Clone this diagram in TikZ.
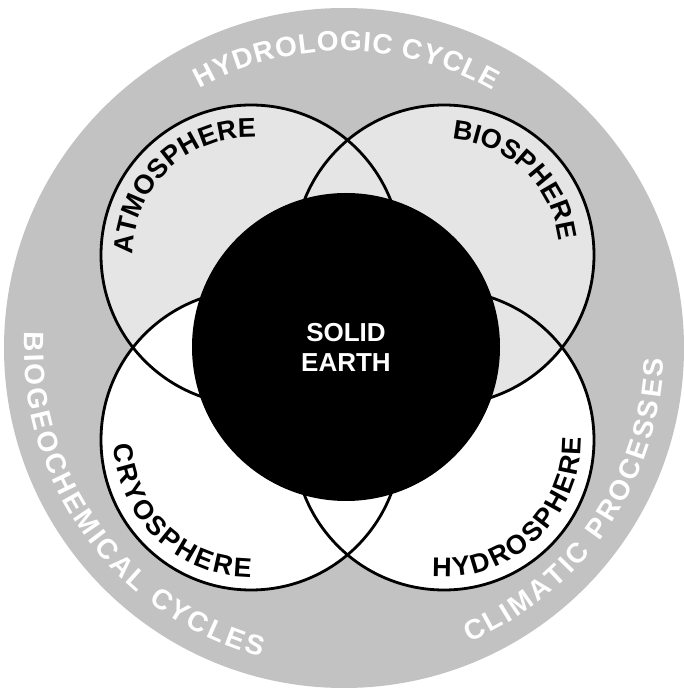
\documentclass[tikz,border=0pt]{standalone}
\usepackage{fontspec}
\setmainfont{Liberation Sans}
\usetikzlibrary{decorations.text,calc}

\newcommand\ringfont{\fontsize{28}{32}\selectfont\bfseries}
\newcommand\spherefont{\fontsize{27}{30}\selectfont\bfseries}
% start angle, end angle, radius, text
\newcommand\ringlabel[4]{%
  \path[arclabel={|\ringfont|#4}{white}] ($(ring.center)+(#1:#3pt)$) arc[start angle=#1, end angle=#2, radius=#3pt];
}

\begin{document}
\begin{tikzpicture}[
  x=1pt, y=1pt,
  sphere/.style={circle, inner sep=0pt, minimum size=300pt},
  rim/.style={line width=2.8pt},
  arclabel/.style 2 args={decorate, decoration={text along path, text align={fit to path}, text color=#2, text={#1}}}
]
  \useasboundingbox (0,0) rectangle (684,694);
  \node[circle, inner sep=0pt, minimum size=680pt, fill=black!24] (ring) at (344,346) {};
  % lower spheres lie over the upper ones where they overlap
  \node[sphere, fill=white] (hydro) at (444,254) {};
  \node[sphere, fill=black!10] (atmo) at (251,439) {};
  \node[sphere, fill=white] (cryo) at (251,254) {};
  \node[sphere, fill=black!10] (bio) at (444,439) {};
  \foreach \s in {atmo,bio,cryo,hydro}
    \draw[rim] (\s.center) circle[radius=150pt];
  \node[circle, inner sep=0pt, minimum size=308pt, fill=black, text=white, align=center,
    font=\fontsize{26}{30}\selectfont\bfseries] (earth) at (346,347) {SOLID\\EARTH};

  \path[arclabel={|\spherefont|ATMOSPHERE}{black}] ($(atmo.center)+(180:118pt)$) arc[start angle=180, end angle=89, radius=118pt];
  \path[arclabel={|\spherefont|BIOSPHERE}{black}] ($(bio.center)+(86:116pt)$) arc[start angle=86, end angle=7, radius=116pt];
  \path[arclabel={|\spherefont|CRYOSPHERE}{black}] ($(cryo.center)+(182:137pt)$) arc[start angle=182, end angle=270, radius=137pt];
  \path[arclabel={|\spherefont|HYDROSPHERE}{black}] ($(hydro.center)+(265:137pt)$) arc[start angle=265, end angle=361, radius=137pt];

  \ringlabel{119}{60}{297}{HYDROLOGIC CYCLE}
  \ringlabel{177}{255}{320}{BIOGEOCHEMICAL CYCLES}
  \ringlabel{293}{358}{320}{CLIMATIC PROCESSES}
\end{tikzpicture}
\end{document}
